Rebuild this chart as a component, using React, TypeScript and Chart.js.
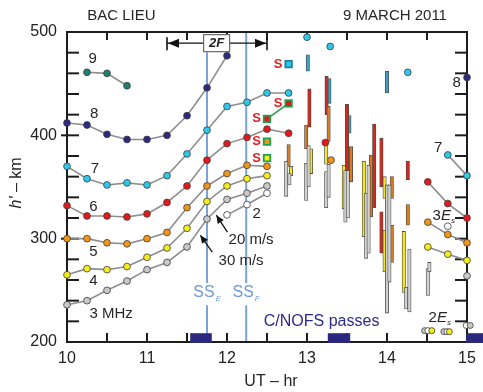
import React, { useEffect, useRef } from 'react';
import { Chart, registerables } from 'chart.js';

Chart.register(...registerables);

const FONT = '"Liberation Sans", Arial, Helvetica, sans-serif';

// ---------- data (UT hours / virtual height km) ----------
const hoursDay = [10, 10.25, 10.5, 10.75, 11, 11.25, 11.5, 11.75, 12, 12.25, 12.5, 12.77];
const hours9 = [10.25, 10.5, 10.75];
const h9 = [461, 460, 448];
const h8 = [412, 410, 401, 396, 396, 400, 419, 446, 477];
const h7 = [370, 358, 352, 354, 352, 361, 382, 405, 428, 432, 441, 441];
const h6 = [332, 322, 322, 321, 324, 335, 351, 376, 392, 398, 406, 402];
const h5 = [300, 300, 296, 295, 300, 306, 330, 351, 363, 371, 370];
const h4 = [265, 271, 270, 273, 282, 291, 310, 336, 351, 358, 361];
const h3 = [236, 240, 250, 259, 270, 277, 292, 319, 338, 344, 351];
const hours2 = [12, 12.25, 12.5];
const h2 = [323, 333, 344];

const hoursLate = [14.51, 14.76, 15];
const late8 = [null, null, 456];
const late7 = [null, 381, 361];
const late6 = [355, 334, 320];
const late5 = [316, 304, 296];
const late4 = [292, 285, 279];
const late3 = [null, null, 264];
const late2 = [null, 312, null];

const cyanIsoX = [13.0, 13.29, 14.26];
const cyanIsoH = [495, 486, 461];
const redIsoX = [13.23];
const redIsoH = [393];
const orangeIsoX = [13.3];
const orangeIsoH = [376];

// 2Es echoes
const esX = [14.47, 14.51, 14.56, 14.71, 14.75, 14.78, 14.99, 15.04];
const esH = [211, 211, 211, 210, 210, 210, 216, 216];

// spread-F squares ("S")
const sqX = [12.77, 12.77, 12.5, 12.5, 12.5];
const sqH = [469, 431, 416, 394, 378];

// spread ranges (floating bars)
const tealX = [13.01, 13.28, 13.53, 14.0];
const tealLo = [462, 431, 402, 441];
const tealHi = [478, 455, 419, 462];
const redX = [13.03, 13.245, 13.5, 13.84, 13.93, 13.93, 14.26];
const redLo = [408, 420, 361, 330, 350, 286, 357];
const redHi = [445, 457, 430, 411, 397, 326, 375];
const orangeX = [12.77, 12.99, 13.27, 13.55, 13.8, 14.06, 14.06, 14.26];
const orangeLo = [370, 387, 394, 355, 321, 339, 277, 313];
const orangeHi = [391, 410, 428, 389, 381, 360, 313, 333];
const yellowX = [12.8, 13.05, 13.24, 13.46, 13.71, 13.97, 13.97, 14.21];
const yellowLo = [361, 363, 372, 329, 302, 339, 268, 248];
const yellowHi = [370, 387, 391, 371, 375, 360, 308, 307];
const grayX = [12.74, 12.78, 12.99, 13.02, 13.24, 13.27, 13.48, 13.51, 13.74, 13.77, 14.0, 14.03, 14.24, 14.28, 14.51, 14.53];
const grayLo = [341, 352, 337, 350, 330, 340, 316, 320, 281, 286, 228, 258, 232, 229, 245, 268];
const grayHi = [375, 363, 373, 390, 365, 372, 366, 366, 344, 371, 352, 352, 253, 290, 271, 277];

// C/NOFS passes
const passStart = [11.54, 13.26, 14.99];
const passEnd = [11.81, 13.54, 15.3];

const xTicks = [10, 11, 12, 13, 14, 15];
const yTicks = [200, 300, 400, 500];

// ---------- styles ----------
const COL = {
  navy: '#2b2a80', teal: '#1f8070', cyan: '#2fc8ea', red: '#e5181c', orange: '#f29519',
  yellow: '#f7ec1d', gray: '#c9c9c9', white: '#ffffff',
};
const BAR = { teal: '#3f9ec2', red: '#cf2a1c', orange: '#dc7c20', yellow: '#f2e52b', gray: '#d2d2d2' };
const esColors = [COL.gray, COL.white, COL.yellow, COL.gray, COL.white, COL.yellow, COL.white, COL.gray];
const sqColors = [COL.cyan, COL.red, COL.red, COL.orange, COL.yellow];

function mk(xs: number[], ys: (number | null)[]) {
  const out: { x: number; y: number }[] = [];
  xs.forEach((x, i) => {
    const v = ys[i];
    if (v != null) out.push({ x, y: v });
  });
  return out;
}

const lineDs = (data: any[], fill: any, show = true): any => ({
  type: 'line',
  data,
  showLine: show,
  borderColor: '#8e8e8e',
  borderWidth: 1.6,
  pointRadius: 3.4,
  pointHoverRadius: 3.4,
  pointBackgroundColor: fill,
  pointBorderColor: '#3c3c3c',
  pointBorderWidth: 0.8,
  clip: false,
  fill: false,
  tension: 0,
  order: 1,
});

const barDs = (xs: number[], lo: number[], hi: number[], color: string): any => ({
  type: 'bar',
  data: xs.map((x, i) => ({ x, y: [lo[i], hi[i]] })),
  backgroundColor: color,
  borderColor: '#4a4a4a',
  borderWidth: 0.8,
  borderSkipped: false,
  barThickness: 3.4,
  grouped: false,
  order: 2,
});

function txt(ctx: CanvasRenderingContext2D, s: string, x: number, y: number, font: string, color: string, align: CanvasTextAlign = 'center') {
  ctx.font = font;
  ctx.fillStyle = color;
  ctx.textAlign = align;
  ctx.textBaseline = 'middle';
  ctx.fillText(s, x, y);
}

function arrowHead(ctx: CanvasRenderingContext2D, x1: number, y1: number, x2: number, y2: number, len = 8, w = 3.6) {
  const a = Math.atan2(y2 - y1, x2 - x1);
  ctx.beginPath();
  ctx.moveTo(x2, y2);
  ctx.lineTo(x2 - len * Math.cos(a) + w * Math.sin(a), y2 - len * Math.sin(a) - w * Math.cos(a));
  ctx.lineTo(x2 - len * Math.cos(a) - w * Math.sin(a), y2 - len * Math.sin(a) + w * Math.cos(a));
  ctx.closePath();
  ctx.fill();
}

function seg(ctx: CanvasRenderingContext2D, x1: number, y1: number, x2: number, y2: number) {
  ctx.beginPath();
  ctx.moveTo(x1, y1);
  ctx.lineTo(x2, y2);
  ctx.stroke();
}

const deco = {
  id: 'deco',
  beforeDatasetsDraw(chart: any) {
    const { ctx, chartArea: a, scales } = chart;
    const X = (v: number) => scales.x.getPixelForValue(v);
    const Y = (v: number) => scales.y.getPixelForValue(v);
    ctx.save();
    // sunset lines
    ctx.strokeStyle = '#78a4da';
    ctx.lineWidth = 2;
    seg(ctx, X(11.75), Y(480.5), X(11.75), Y(257));
    seg(ctx, X(11.75), Y(235.5), X(11.75), a.bottom);
    seg(ctx, X(12.24), a.top, X(12.24), Y(257));
    seg(ctx, X(12.24), Y(235.5), X(12.24), a.bottom);
    // frame
    ctx.strokeStyle = '#1c1c1c';
    ctx.lineWidth = 2;
    ctx.strokeRect(a.left, a.top, a.right - a.left, a.bottom - a.top);
    ctx.lineWidth = 2;
    for (let v = 220; v < 500; v += 20) {
      const yy = Y(v);
      const major = v % 100 === 0;
      seg(ctx, a.left - (major ? 6 : 0), yy, a.left + 12, yy);
      seg(ctx, a.right - 12, yy, a.right, yy);
    }
    for (let h = 10.5; h < 15; h += 0.5) {
      const xx = X(h);
      seg(ctx, xx, a.top, xx, a.top + 8);
      seg(ctx, xx, a.bottom - 9, xx, a.bottom);
    }
    // C/NOFS passes
    ctx.fillStyle = '#29287e';
    passStart.forEach((s, i) => {
      ctx.fillRect(X(s), Y(208.5), X(passEnd[i]) - X(s), Y(200) - Y(208.5) + 1);
    });
    ctx.restore();
  },
  afterDatasetsDraw(chart: any) {
    const { ctx, scales } = chart;
    const X = (v: number) => scales.x.getPixelForValue(v);
    const Y = (v: number) => scales.y.getPixelForValue(v);
    ctx.save();
    const dark = '#262626';
    // titles
    txt(ctx, 'BAC LIEU', X(10.68), Y(515.5), `15px ${FONT}`, dark);
    txt(ctx, '9 MARCH 2011', X(14.1), Y(515.5), `15px ${FONT}`, dark);
    txt(ctx, 'UT \u2013 hr', X(12.55), Y(162), `16px ${FONT}`, dark);
    // y title (rotated)
    ctx.save();
    ctx.translate(X(9.37), Y(354));
    ctx.rotate(-Math.PI / 2);
    ctx.font = `italic 16px ${FONT}`;
    const hw = ctx.measureText("h'").width;
    ctx.font = `16px ${FONT}`;
    const rw = ctx.measureText(' \u2013 km').width;
    const tot = hw + rw;
    ctx.textBaseline = 'middle';
    ctx.textAlign = 'left';
    ctx.fillStyle = dark;
    ctx.font = `italic 16px ${FONT}`;
    ctx.fillText("h'", -tot / 2, 0);
    ctx.font = `16px ${FONT}`;
    ctx.fillText(' \u2013 km', -tot / 2 + hw, 0);
    ctx.restore();

    // series labels
    const f15 = `15px ${FONT}`;
    txt(ctx, '9', X(10.32), Y(474), f15, dark);
    txt(ctx, '8', X(10.34), Y(421), f15, dark);
    txt(ctx, '7', X(10.35), Y(368), f15, dark);
    txt(ctx, '6', X(10.33), Y(331), f15, dark);
    txt(ctx, '5', X(10.33), Y(287), f15, dark);
    txt(ctx, '4', X(10.33), Y(259), f15, dark);
    txt(ctx, '3 MHz', X(10.28), Y(227.5), f15, dark, 'left');
    txt(ctx, '2', X(12.37), Y(324), f15, dark);
    txt(ctx, '8', X(14.87), Y(450.5), f15, dark);
    txt(ctx, '7', X(14.64), Y(387.5), f15, dark);
    txt(ctx, '20 m/s', X(12.02), Y(298.5), f15, dark, 'left');
    txt(ctx, '30 m/s', X(11.895), Y(279), f15, dark, 'left');

    // 3Es / 2Es
    const rich = (lead: string, x: number, y: number) => {
      ctx.textAlign = 'left';
      ctx.textBaseline = 'middle';
      ctx.fillStyle = dark;
      ctx.font = f15;
      ctx.fillText(lead, x, y);
      let cx = x + ctx.measureText(lead).width;
      ctx.font = `italic 15px ${FONT}`;
      ctx.fillText('E', cx, y);
      cx += ctx.measureText('E').width;
      ctx.font = `italic 8px ${FONT}`;
      ctx.fillText('s', cx, y + 5);
    };
    rich('3', X(14.57), Y(321.8));
    rich('2', X(14.52), Y(223.5));

    // C/NOFS
    txt(ctx, 'C/NOFS passes', X(12.46), Y(220), `16px ${FONT}`, '#2b2a8c', 'left');

    // SS labels
    const ssCol = '#6d9bd2';
    const ss = (x: number, sub: string) => {
      ctx.font = `16px ${FONT}`;
      const w = ctx.measureText('SS').width;
      txt(ctx, 'SS', x - 3, Y(247.5), `16px ${FONT}`, ssCol);
      txt(ctx, sub, x - 3 + w / 2 + 1, Y(242), `italic 8px ${FONT}`, ssCol, 'left');
    };
    ss(X(11.75), 'E');
    ss(X(12.24), 'F');

    // velocity arrows
    ctx.strokeStyle = '#111';
    ctx.fillStyle = '#111';
    ctx.lineWidth = 1.3;
    const ar = (x1: number, y1: number, x2: number, y2: number) => {
      seg(ctx, X(x1), Y(y1), X(x2), Y(y2));
      arrowHead(ctx, X(x1), Y(y1), X(x2), Y(y2), 8, 3.6);
    };
    ar(12.005, 306.3, 11.867, 322.7);
    ar(11.816, 286.9, 11.667, 303.3);

    // 2F arrow
    const yA = Y(489.2);
    const xL = X(11.25);
    const xR = X(12.5);
    ctx.lineWidth = 1.4;
    seg(ctx, xL, yA, xR, yA);
    ctx.lineWidth = 1.6;
    seg(ctx, xL, yA - 6, xL, yA + 7);
    seg(ctx, xR, yA - 6, xR, yA + 7);
    arrowHead(ctx, xL + 20, yA, xL + 1, yA, 11, 4.5);
    arrowHead(ctx, xR - 20, yA, xR - 1, yA, 11, 4.5);
    const bx = X(11.87);
    ctx.fillStyle = '#ffffff';
    ctx.fillRect(bx - 13, yA - 8.5, 26, 17);
    ctx.strokeStyle = '#6a6a6a';
    ctx.lineWidth = 1.2;
    ctx.strokeRect(bx - 13, yA - 8.5, 26, 17);
    txt(ctx, '2F', bx, yA + 0.5, `italic bold 13px ${FONT}`, '#222');

    // S labels
    sqX.forEach((sx, i) => {
      txt(ctx, 'S', X(sx) - 10.5, Y(sqH[i]), `bold 13px ${FONT}`, '#e42027');
    });
    ctx.restore();
  },
};

export default function App() {
  const ref = useRef<HTMLCanvasElement>(null);
  useEffect(() => {
    document.body.style.margin = '0';
    const canvas = ref.current!;
    const datasets: any[] = [
      barDs(grayX, grayLo, grayHi, BAR.gray),
      barDs(yellowX, yellowLo, yellowHi, BAR.yellow),
      barDs(orangeX, orangeLo, orangeHi, BAR.orange),
      barDs(redX, redLo, redHi, BAR.red),
      barDs(tealX, tealLo, tealHi, BAR.teal),
      lineDs(mk(hours9, h9), COL.teal),
      lineDs(mk(hoursDay.slice(0, 9), h8), COL.navy),
      lineDs(mk(hoursDay, h7), COL.cyan),
      lineDs(mk(hoursDay, h6), COL.red),
      lineDs(mk(hoursDay.slice(0, 11), h5), COL.orange),
      lineDs(mk(hoursDay.slice(0, 11), h4), COL.yellow),
      lineDs(mk(hoursDay.slice(0, 11), h3), COL.gray),
      lineDs(mk(hours2, h2), COL.white),
      lineDs(mk(hoursLate, late8), COL.navy),
      lineDs(mk(hoursLate, late7), COL.cyan),
      lineDs(mk(hoursLate, late6), COL.red),
      lineDs(mk(hoursLate, late5), COL.orange),
      lineDs(mk(hoursLate, late4), COL.yellow),
      lineDs(mk(hoursLate, late3), COL.gray),
      lineDs(mk(hoursLate, late2), COL.white),
      lineDs(mk(cyanIsoX, cyanIsoH), COL.cyan, false),
      lineDs(mk(redIsoX, redIsoH), COL.red, false),
      lineDs(mk(orangeIsoX, orangeIsoH), COL.orange, false),
      { ...lineDs(mk(esX, esH), esColors, false), pointRadius: 3 },
      {
        type: 'line',
        data: mk([12.5, 12.77], [416, 431]),
        borderColor: '#22a04e',
        borderWidth: 1.6,
        pointRadius: 0,
        clip: false,
        order: 0.5,
      },
      {
        type: 'line',
        data: mk(sqX, sqH),
        showLine: false,
        pointStyle: 'rect',
        pointRadius: 4.6,
        pointHoverRadius: 4.6,
        pointBackgroundColor: sqColors,
        pointBorderColor: ['#1f7fa0', '#1ea04c', '#1ea04c', '#1ea04c', '#1ea04c'],
        pointBorderWidth: 1.8,
        clip: false,
        order: 0,
      },
    ];
    const chart = new Chart(canvas, {
      type: 'bar',
      data: { datasets },
      options: {
        responsive: false,
        animation: false,
        devicePixelRatio: 1,
        layout: { padding: { left: 0, right: 16, top: 32, bottom: 0 } },
        plugins: { legend: { display: false }, tooltip: { enabled: false }, title: { display: false } },
        events: [],
        scales: {
          x: {
            type: 'linear',
            min: 10,
            max: 15,
            offset: false,
            grid: { display: false, drawTicks: false },
            border: { display: false },
            afterBuildTicks: (s: any) => {
              s.ticks = xTicks.map((v) => ({ value: v }));
            },
            afterFit: (s: any) => {
              s.height = 50;
            },
            ticks: { font: { size: 16, family: FONT }, color: '#222', padding: 7, maxRotation: 0 },
          },
          y: {
            type: 'linear',
            min: 200,
            max: 500,
            grid: { display: false, drawTicks: false },
            border: { display: false },
            afterBuildTicks: (s: any) => {
              s.ticks = yTicks.map((v) => ({ value: v }));
            },
            afterFit: (s: any) => {
              s.width = 67;
            },
            ticks: { font: { size: 16, family: FONT }, color: '#222', padding: 10 },
          },
        },
      } as any,
      plugins: [deco],
    });
    return () => chart.destroy();
  }, []);
  return (
    <div style={{ width: 483, height: 392 }}>
      <canvas ref={ref} width={483} height={392} style={{ display: 'block' }} />
    </div>
  );
}
